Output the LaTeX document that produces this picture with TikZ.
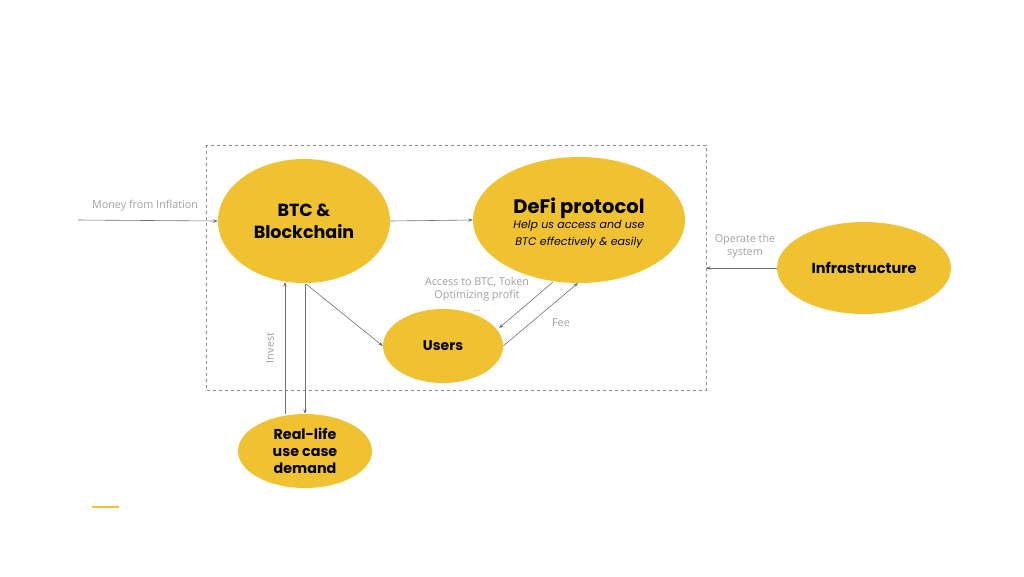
\documentclass[tikz,border=0pt]{standalone}
\usepackage{fontspec}
\setmainfont{Poppins}
\newfontfamily\rotulofont{Open Sans}
\usetikzlibrary{positioning,arrows.meta,shapes.geometric}
\definecolor{amarelo}{HTML}{F0C231}
\definecolor{linha}{HTML}{707070}
\definecolor{cinza}{HTML}{A0A0A0}
\definecolor{borda}{HTML}{8A8A8A}
\newcommand{\subtit}{\mdseries\itshape\fontsize{11}{13}\selectfont}

\begin{document}
\begin{tikzpicture}[x=1pt, y=-1pt,
  elipse/.style={ellipse, fill=amarelo, draw=none, inner sep=0pt, align=center, font=\bfseries},
  seta/.style={-{Stealth[length=4.5pt, width=3.5pt]}, line width=0.6pt, draw=linha},
  rotulo/.style={text=cinza, font=\rotulofont\fontsize{10.8}{13}\selectfont, align=center, inner sep=0pt}]
\useasboundingbox (0,0) rectangle (1024,576);
% caixa tracejada
\draw[borda, dashed, line width=0.6pt] (206,145) rectangle (706,390);
\coordinate (esq) at (78,220);
\coordinate (dir) at (706,268);
\node[elipse, minimum width=172, minimum height=124, font=\bfseries\fontsize{17.5}{22}\selectfont] (btc) at (304,221) {BTC \&\\Blockchain};
\node[elipse, minimum width=212, minimum height=126, font=\bfseries\fontsize{19.5}{22}\selectfont] (defi) at (579,220) {\rule{0pt}{22pt}DeFi protocol\\[-7pt]\subtit Help us access and use\\[-5pt]\subtit BTC effectively \& easily};
\node[elipse, minimum width=120, minimum height=74, font=\bfseries\fontsize{14}{17}\selectfont] (users) at (443,346) {Users};
\node[elipse, minimum width=134, minimum height=74, font=\bfseries\fontsize{14.3}{17}\selectfont] (real) at (305,451) {Real-life\\use case\\demand};
\node[elipse, minimum width=174, minimum height=92, font=\bfseries\fontsize{14.5}{17}\selectfont] (infra) at (864,268) {Infrastructure};
\draw[seta] (esq) -- (btc.west);
\draw[seta] (btc.east) -- (defi.west);
\draw[seta] (306,284) -- (users.west);
\draw[seta] (305,284) -- (real.north);
\draw[seta] (285,414) -- (285,282);
\draw[seta] (553,282) -- (499,328);
\draw[seta] (users.east) -- (578,283);
\draw[seta] (infra.west) -- (dir);
\node[rotulo] (lblmoney) at (145,206) {Money from Inflation};
\node[rotulo, rotate=90] (lblinvest) at (270,348) {Invest};
\node[rotulo] (lblaccess) at (477,289) {Access to BTC, Token\\Optimizing profit};
\node[rotulo, font=\rotulofont\fontsize{9}{10}\selectfont] (lbldots) at (477,311) {...};
\node[rotulo] (lblfee) at (561,323) {Fee};
\node[rotulo] (lbloper) at (745,246) {Operate the\\system};
\draw[amarelo, line width=1.5pt] (92,507) -- (119,507);
\end{tikzpicture}
\end{document}
